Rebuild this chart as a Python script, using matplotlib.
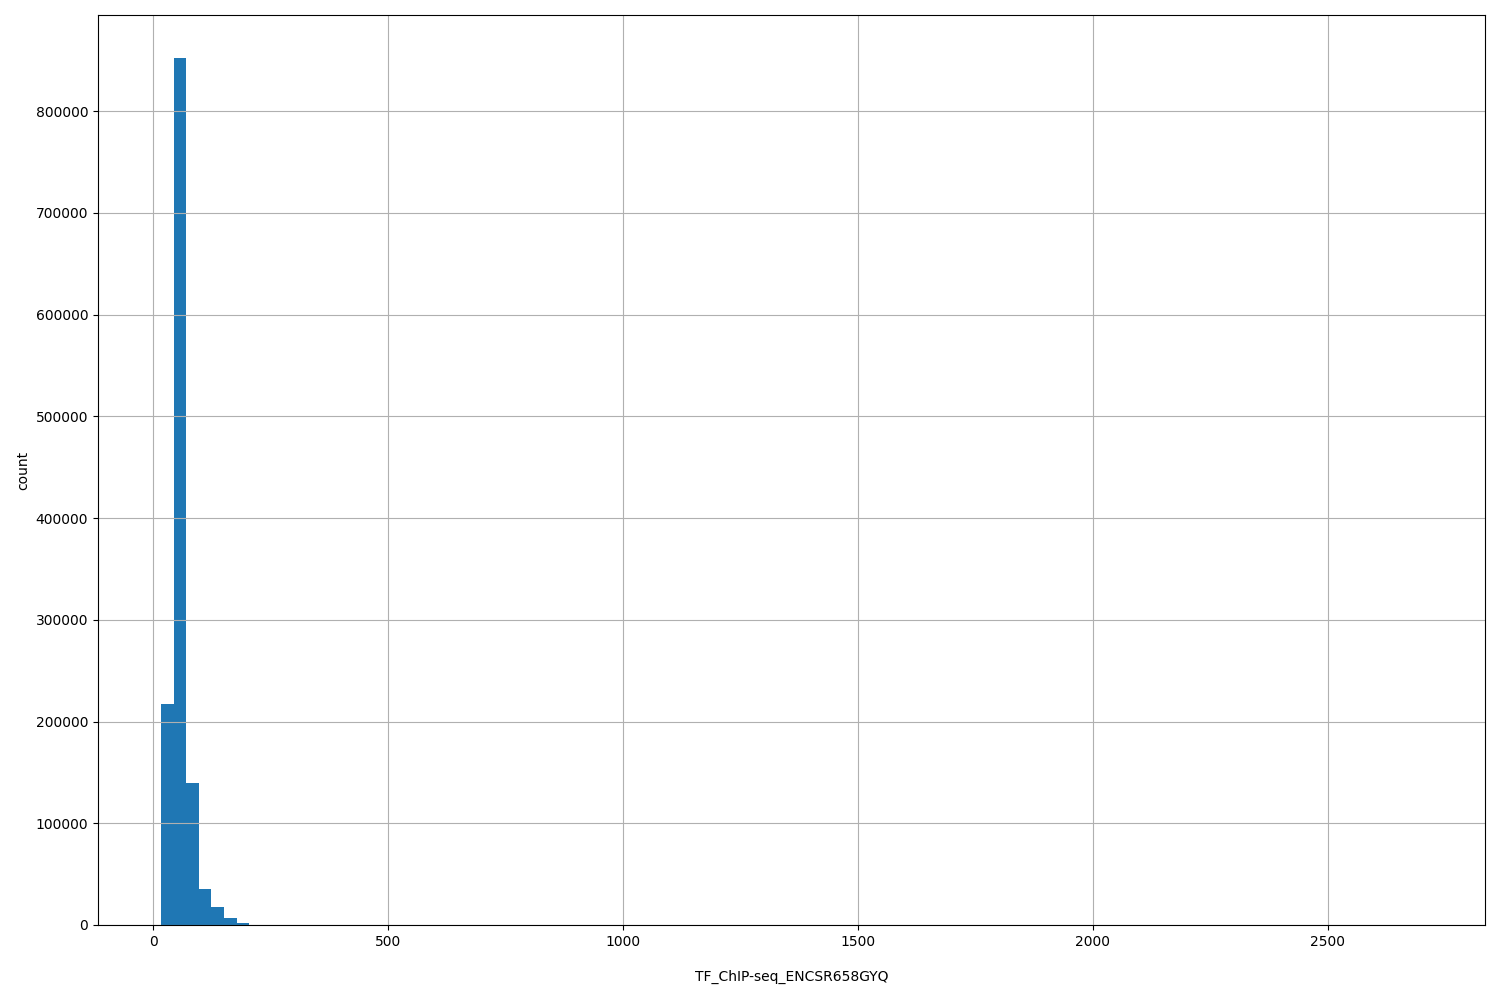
import numpy as np
import matplotlib
matplotlib.use("Agg")
import matplotlib.pyplot as plt

# histogram of signal values, 100 bins between min and max
lo, hi = 17, 2700
counts = [217000, 852000, 139600, 35400, 18000, 6900, 2300, 350, 150, 80,
          40, 25, 15, 10, 6, 4, 3, 2, 1, 1,
          0, 0, 0, 0, 0, 0, 0, 0, 0, 0,
          0, 0, 0, 0, 0, 0, 0, 0, 0, 0,
          0, 0, 0, 0, 0, 0, 0, 0, 0, 0,
          0, 0, 0, 0, 0, 0, 0, 0, 0, 0,
          0, 0, 0, 0, 0, 0, 0, 0, 0, 0,
          0, 0, 0, 0, 0, 0, 0, 0, 0, 0,
          0, 0, 0, 0, 0, 0, 0, 0, 0, 0,
          0, 0, 0, 0, 0, 0, 0, 0, 0, 1]
edges = np.linspace(lo, hi, len(counts) + 1)

fig, ax = plt.subplots(figsize=(15, 10), dpi=100)
fig.subplots_adjust(left=0.0653, right=0.99, top=0.985, bottom=0.075)
ax.hist(edges[:-1], bins=edges, weights=counts, color='#1f77b4')
ax.grid(True)
ax.set_xlabel('TF_ChIP-seq_ENCSR658GYQ', labelpad=15)
ax.set_ylabel('count')
fig.savefig('out.png')
